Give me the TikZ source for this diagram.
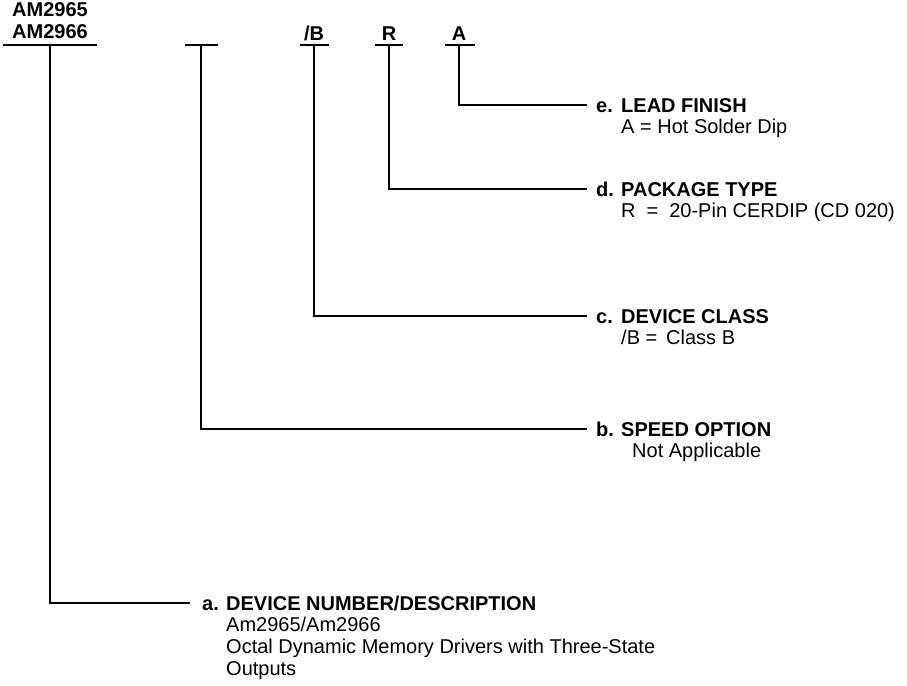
\documentclass[tikz,border=0pt]{standalone}
\usepackage{fontspec}
\setmainfont{Liberation Sans}
\begin{document}
\begin{tikzpicture}[x=1pt,y=-1pt,
  wire/.style={line width=1.8pt},
  uline/.style={line width=1.8pt},
  hdr/.style={font=\fontsize{20}{22}\selectfont\bfseries, inner sep=0pt, anchor=base west},
  code/.style={font=\fontsize{20}{22}\selectfont\bfseries, inner sep=0pt, anchor=base},
  desc/.style={font=\fontsize{20}{22}\selectfont, inner sep=0pt, anchor=base west}]
\useasboundingbox (0,0) rectangle (907,685);
% top codes
\node[code] (am1) at (50,17) {AM2965};
\node[code] (am2) at (50,38) {AM2966};
\node[code] (cB) at (314,41) {/B};
\node[code] (cR) at (389,41) {R};
\node[code] (cA) at (459,41) {A};
% underlines
\coordinate (ua1) at (3,45);  \coordinate (ua2) at (97,45);
\coordinate (ub1) at (185,45); \coordinate (ub2) at (218,45);
\coordinate (uc1) at (300,45); \coordinate (uc2) at (329,45);
\coordinate (ud1) at (375,45); \coordinate (ud2) at (403,45);
\coordinate (ue1) at (445,45); \coordinate (ue2) at (475,45);
\draw[uline] (ua1) -- (ua2);
\draw[uline] (ub1) -- (ub2);
\draw[uline] (uc1) -- (uc2);
\draw[uline] (ud1) -- (ud2);
\draw[uline] (ue1) -- (ue2);
% taps
\coordinate (ta) at (50,45);
\coordinate (tb) at (201,45);
\coordinate (tc) at (314,45);
\coordinate (td) at (389,45);
\coordinate (te) at (459,45);
% labels
\node[hdr] (le) at (596,112) {e.};
\node[hdr] (he) at (621,112) {LEAD FINISH};
\node[desc] (de) at (621,133) {A = Hot Solder Dip};
\node[hdr] (ld) at (596,196) {d.};
\node[hdr] (hd) at (621,196) {PACKAGE TYPE};
\node[desc] (dd) at (621,217) {R\hspace{11pt}=\hspace{11pt}20-Pin CERDIP (CD 020)};
\node[hdr] (lc) at (596,323) {c.};
\node[hdr] (hc) at (621,323) {DEVICE CLASS};
\node[desc] (dc) at (621,344) {/B = \,Class B};
\node[hdr] (lb) at (596,436) {b.};
\node[hdr] (hb) at (621,436) {SPEED OPTION};
\node[desc] (db) at (632,457) {Not Applicable};
\node[hdr] (la) at (202,610) {a.};
\node[hdr] (ha) at (226,610) {DEVICE NUMBER/DESCRIPTION};
\node[desc] (da1) at (226,631) {Am2965/Am2966};
\node[desc] (da2) at (226,653) {Octal Dynamic Memory Drivers with Three-State};
\node[desc] (da3) at (226,675) {Outputs};
% connectors
\coordinate (ee) at (587,105);
\coordinate (ed) at (587,189);
\coordinate (ec) at (587,316);
\coordinate (eb) at (587,429);
\coordinate (ea) at (190,603);
\draw[wire] (te) |- (ee);
\draw[wire] (td) |- (ed);
\draw[wire] (tc) |- (ec);
\draw[wire] (tb) |- (eb);
\draw[wire] (ta) |- (ea);
\end{tikzpicture}
\end{document}
